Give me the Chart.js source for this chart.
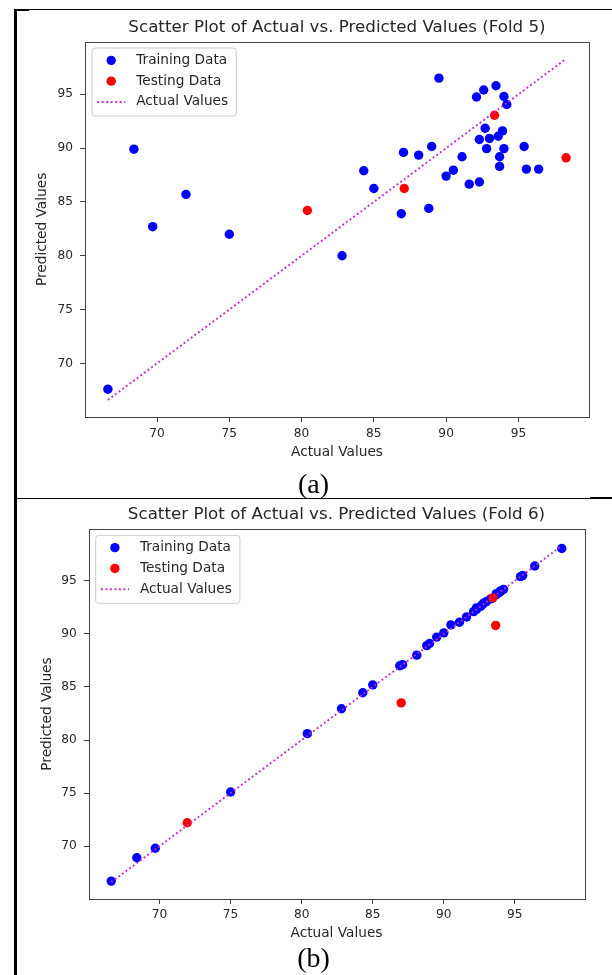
<!DOCTYPE html>
<html>
<head>
<meta charset="utf-8">
<title>Actual vs. Predicted (Folds 5 and 6)</title>
<script src="https://cdn.jsdelivr.net/npm/chart.js@4.4.1/dist/chart.umd.min.js"></script>
<style>
  html, body { margin: 0; padding: 0; background: #fff; overflow: hidden; }
  #page { position: relative; width: 612px; height: 975px; overflow: hidden; background: #fff; }
  .rule { position: absolute; background: #000; }
  canvas { position: absolute; left: 0; }
  .caption { position: absolute; left: 15px; width: 597px; text-align: center; font: 28px/1 "Liberation Serif", "Times New Roman", serif; color: #000; }
</style>
</head>
<body>
<div id="page">
  <div class="rule" style="left:14px;top:9px;width:598px;height:1px"></div>
  <div class="rule" style="left:14px;top:9px;width:15px;height:2px"></div>
  <div class="rule" style="left:14px;top:9px;width:3px;height:966px"></div>
  <div class="rule" style="left:14px;top:498px;width:598px;height:1px"></div>
  <div class="rule" style="left:590px;top:497px;width:22px;height:2px"></div>
  <canvas id="fold5" width="674" height="470" style="top:0"></canvas>
  <canvas id="fold6" width="673" height="475" style="top:480px"></canvas>
  <div class="caption" style="top:470px">(a)</div>
  <div class="caption" style="top:944px">(b)</div>
</div>
<script>
const xTicks = [70, 75, 80, 85, 90, 95];
const yTicks = [70, 75, 80, 85, 90, 95];
const diagonal = [66.6, 98.3];

const fold5TrainActual = [66.6, 68.4, 69.7, 72.0, 75.0, 82.8, 84.3, 85.0, 86.9, 87.05, 88.1, 88.8,
  89.0, 89.5, 90.0, 90.5, 91.1, 91.6, 92.1, 92.3, 92.3, 92.6, 92.7, 92.8,
  93.0, 93.45, 93.6, 93.7, 93.7, 93.9, 94.0, 94.0, 94.2, 95.4, 95.55, 96.4];
const fold5TrainPred = [67.6, 89.9, 82.7, 85.7, 82.0, 80.0, 87.9, 86.25, 83.9, 89.6, 89.35, 84.4,
  90.15, 96.5, 87.4, 87.95, 89.2, 86.65, 94.75, 90.8, 86.85, 95.4, 91.85, 89.95,
  90.9, 95.8, 91.1, 89.2, 88.3, 91.6, 94.8, 89.95, 94.05, 90.15, 88.05, 88.05];
const fold5TestActual = [80.4, 87.1, 93.35, 98.3];
const fold5TestPred = [84.2, 86.25, 93.05, 89.1];

const fold6TrainActual = [66.6, 68.4, 69.7, 75.0, 80.4, 82.8, 84.3, 85.0, 86.9, 87.1, 88.1, 88.8,
  89.0, 89.5, 90.0, 90.5, 91.1, 91.6, 92.1, 92.3, 92.3, 92.6, 92.7, 92.8,
  93.0, 93.3, 93.7, 93.7, 93.9, 94.0, 94.0, 94.2, 95.4, 95.55, 96.4, 98.3];
const fold6TrainPred = [66.7, 68.9, 69.8, 75.1, 80.6, 82.95, 84.45, 85.2, 87.0, 87.1, 88.0, 88.9,
  89.1, 89.7, 90.1, 90.85, 91.1, 91.6, 92.1, 92.3, 92.45, 92.6, 92.75, 92.9,
  93.05, 93.3, 93.7, 93.8, 93.9, 94.0, 94.05, 94.2, 95.4, 95.5, 96.4, 98.05];
const fold6TestActual = [71.95, 87.0, 93.45, 93.65];
const fold6TestPred = [72.2, 83.5, 93.4, 90.8];

const FONT = '"DejaVu Sans", sans-serif';
const INK = "#262626";
const SPINE = "#444";
const axisMin = diagonal[0] - 0.05 * (diagonal[1] - diagonal[0]);
const axisMax = diagonal[1] + 0.05 * (diagonal[1] - diagonal[0]);

Chart.defaults.font.family = FONT;
Chart.defaults.color = INK;

function points(xs, ys) {
  return xs.map((x, i) => ({ x, y: ys[i] }));
}

// matplotlib draws all four spines, Chart.js only the axis ones
const axesBox = {
  id: "axesBox",
  afterDatasetsDraw(chart) {
    const { ctx, chartArea: a } = chart;
    ctx.save();
    ctx.strokeStyle = SPINE;
    ctx.lineWidth = 1;
    ctx.strokeRect(Math.round(a.left) + 0.5, Math.round(a.top) + 0.5,
      Math.round(a.right - a.left), Math.round(a.bottom - a.top));
    ctx.restore();
  },
};

// legend box inside the upper left corner of the axes
const frameLegend = {
  id: "frameLegend",
  afterDraw(chart, args, opts) {
    const { ctx, chartArea: a } = chart;
    const sets = chart.data.datasets;
    ctx.save();
    ctx.font = `${opts.size}px ${FONT}`;
    const textW = Math.max(...sets.map((d) => ctx.measureText(d.label).width));
    const fx = a.left + 7, fy = a.top + 6.3;
    ctx.beginPath();
    ctx.roundRect(fx, fy, 44.6 + textW + 7.7, 68, 3);
    ctx.fillStyle = "rgba(255,255,255,0.8)";
    ctx.fill();
    ctx.strokeStyle = "#cccccc";
    ctx.lineWidth = 1;
    ctx.stroke();
    sets.forEach((d, i) => {
      const cy = a.top + 18.6 + i * 20.8;
      const mx = a.left + 26.2;
      ctx.beginPath();
      if (d.showLine) {
        ctx.setLineDash(d.borderDash);
        ctx.strokeStyle = d.borderColor;
        ctx.lineWidth = d.borderWidth;
        ctx.moveTo(mx - 14, cy);
        ctx.lineTo(mx + 14, cy);
        ctx.stroke();
        ctx.setLineDash([]);
      } else {
        ctx.arc(mx, cy, d.pointRadius, 0, Math.PI * 2);
        ctx.fillStyle = d.backgroundColor;
        ctx.fill();
      }
      ctx.fillStyle = INK;
      ctx.textAlign = "left";
      ctx.textBaseline = "middle";
      ctx.fillText(d.label, a.left + 51.2, cy);
    });
    ctx.restore();
  },
};

function tickAxis(values, extra) {
  return {
    type: "linear",
    min: axisMin,
    max: axisMax,
    afterBuildTicks: (s) => { s.ticks = values.map((v) => ({ value: v })); },
    grid: { display: true, drawOnChartArea: false, drawTicks: true, tickLength: 5, tickColor: SPINE },
    border: { display: false },
    ...extra,
  };
}

function makeChart(id, cfg) {
  return new Chart(document.getElementById(id), {
    type: "scatter",
    data: {
      datasets: [
        { label: "Training Data", data: points(cfg.trainX, cfg.trainY), backgroundColor: "#0000ff",
          borderWidth: 0, pointRadius: 4.7, order: 2 },
        { label: "Testing Data", data: points(cfg.testX, cfg.testY), backgroundColor: "#ff0000",
          borderWidth: 0, pointRadius: 4.7, order: 1 },
        { label: "Actual Values", data: points(diagonal, diagonal), showLine: true, fill: false,
          borderColor: "#c62ac6", borderWidth: 1.9, borderDash: [1.9, 2.6], pointRadius: 0, order: 0 },
      ],
    },
    options: {
      responsive: false,
      animation: false,
      events: [],
      layout: { padding: { left: 0, right: 0, top: 0, bottom: cfg.bottomPad } },
      plugins: {
        legend: { display: false },
        tooltip: { enabled: false },
        title: {
          display: true,
          text: cfg.title,
          color: INK,
          font: { size: 16.7, weight: "normal" },
          padding: { top: cfg.titleTop, bottom: cfg.titleBottom },
        },
        frameLegend: { size: 13.7 },
      },
      scales: {
        x: tickAxis(xTicks, {
          position: "bottom",
          afterFit: (s) => { s.height = 45; },
          ticks: { font: { size: 12.2 }, color: INK, padding: cfg.xTickPad, maxRotation: 0, autoSkip: false },
          title: { display: true, text: "Actual Values", color: INK, font: { size: 13.7 },
            padding: { top: 0, bottom: cfg.xTitlePad } },
        }),
        y: tickAxis(yTicks, {
          position: "left",
          afterFit: (s) => { s.width = cfg.left; },
          ticks: { font: { size: 12.2 }, color: INK, padding: 7, autoSkip: false },
          title: { display: true, text: "Predicted Values", color: INK, font: { size: 13.7 },
            padding: { top: cfg.yTitlePad, bottom: 0 } },
        }),
        // empty right box so the title centres over the axes like matplotlib
        y2: {
          type: "linear",
          position: "right",
          afterFit: (s) => { s.width = cfg.left; },
          ticks: { display: false },
          grid: { display: false },
          border: { display: false },
        },
      },
    },
    plugins: [axesBox, frameLegend],
  });
}

makeChart("fold5", {
  title: "Scatter Plot of Actual vs. Predicted Values (Fold 5)",
  trainX: fold5TrainActual, trainY: fold5TrainPred,
  testX: fold5TestActual, testY: fold5TestPred,
  left: 85, titleTop: 17.5, titleBottom: 4.2,
  xTickPad: 4.8, xTitlePad: 1.3, yTitlePad: 33.8, bottomPad: 8,
});

makeChart("fold6", {
  title: "Scatter Plot of Actual vs. Predicted Values (Fold 6)",
  trainX: fold6TrainActual, trainY: fold6TrainPred,
  testX: fold6TestActual, testY: fold6TestPred,
  left: 88.7, titleTop: 24.7, titleBottom: 4.3,
  xTickPad: 3.8, xTitlePad: 2.5, yTitlePad: 39.3, bottomPad: 11,
});
</script>
</body>
</html>
